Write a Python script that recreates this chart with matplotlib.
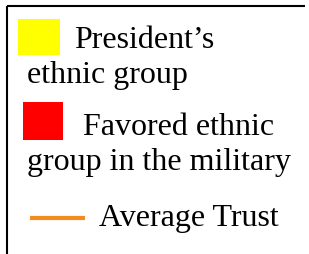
import matplotlib
matplotlib.use("Agg")
import matplotlib.pyplot as plt
from matplotlib.patches import Rectangle

# legend entries: first line, wrapped continuation, colour, marker kind
LABELS = ["President\u2019s", "Favored ethnic", "Average Trust"]
WRAPPED = ["ethnic group", "group in the military", ""]
COLORS = ["#FFFF00", "#FF0000", "#F28C1E"]
KINDS = ["patch", "patch", "line"]

# layout in pixels (x from left, y from top)
SWATCH = [(18, 20, 42, 36), (23, 103, 40, 38), (30, 219, 55, 0)]
TEXT_X = [74, 83, 99]
TEXT_Y = [48, 135, 226]
WRAP_X = 27
WRAP_DY = 35

plt.rcParams["font.family"] = ["Liberation Serif", "DejaVu Serif"]

fig = plt.figure(figsize=(3.09, 2.55), dpi=100)
ax = fig.add_axes([0, 0, 1, 1])
ax.set_xlim(0, 309)
ax.set_ylim(255, 0)
ax.axis("off")

# frame: top and left edges only
ax.plot([7, 305], [7, 7], color="black", lw=1.5, solid_capstyle="butt")
ax.plot([7, 7], [7, 255], color="black", lw=1.5, solid_capstyle="butt")

for lab, wrap, col, kind, sw, tx, ty in zip(LABELS, WRAPPED, COLORS, KINDS, SWATCH, TEXT_X, TEXT_Y):
    x, y, w, h = sw
    if kind == "patch":
        ax.add_patch(Rectangle((x, y), w, h, facecolor=col, edgecolor="none"))
    else:
        ax.plot([x, x + w], [y, y], color=col, lw=3, solid_capstyle="butt")
    ax.text(tx, ty, lab, fontsize=23, va="baseline", ha="left")
    if wrap:
        ax.text(WRAP_X, ty + WRAP_DY, wrap, fontsize=23, va="baseline", ha="left")

fig.savefig("out.png", dpi=100)
